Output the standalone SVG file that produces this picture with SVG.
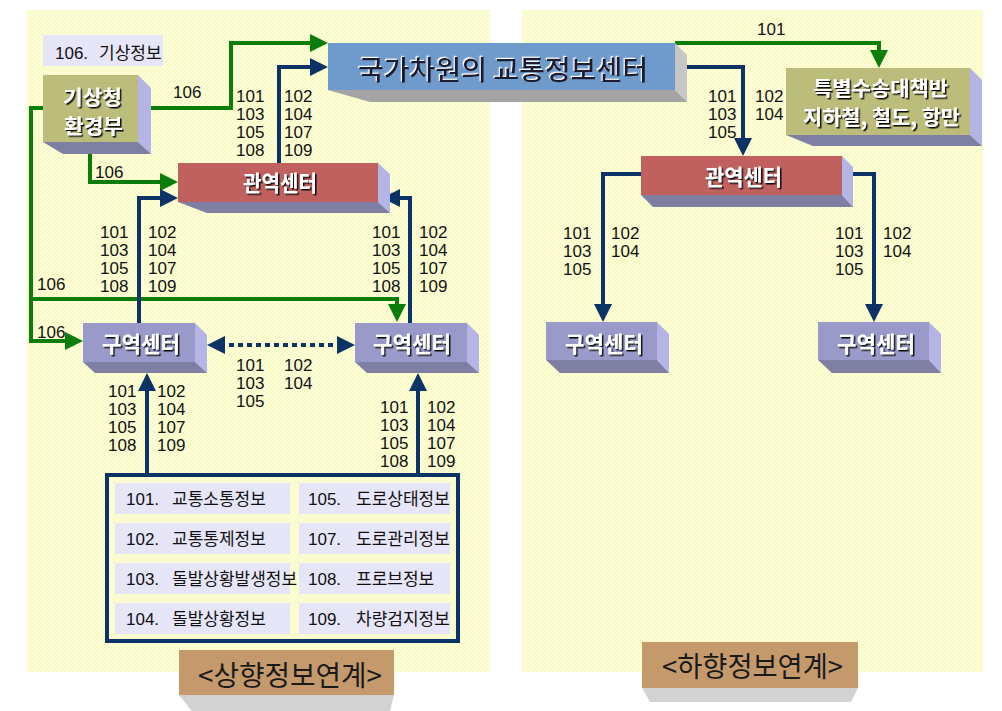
<svg xmlns="http://www.w3.org/2000/svg" width="1002" height="711" viewBox="0 0 1002 711">
<style>
.g{fill:none;stroke:#0A7D0A;stroke-width:4}
.n{fill:none;stroke:#0B3366;stroke-width:4}
.num{font-family:"Liberation Sans",Arial,sans-serif;font-size:17px;fill:#111}
.lg{font-family:"Liberation Sans","Noto Sans CJK KR",sans-serif;font-size:17px;fill:#111}
.kr{font-family:"Noto Sans CJK KR",sans-serif;font-size:17px;fill:#111}
.wt{font-family:"Noto Sans CJK KR",sans-serif;font-weight:700;font-size:22px;fill:#fff;filter:url(#sh)}
.w2{font-size:20px}
.cell{fill:#E6E6F8}
.side{fill:#B4B4E6}
.bot{fill:#7F7FA4}
</style>
<defs>
<pattern id="hatch" width="4" height="4" patternUnits="userSpaceOnUse">
<rect width="4" height="4" fill="#FFFFD4"/>
<path d="M0,4 L4,0" stroke="#F2F2C4" stroke-width="1"/>
</pattern>
<filter id="sh" x="-10%" y="-20%" width="130%" height="150%">
<feDropShadow dx="1.5" dy="1.5" stdDeviation="0" flood-color="#111"/>
</filter>
<filter id="hl" x="-10%" y="-20%" width="130%" height="150%">
<feDropShadow dx="-1.2" dy="-1.2" stdDeviation="0" flood-color="#fff"/>
</filter>
<marker id="ag" markerUnits="userSpaceOnUse" markerWidth="18" markerHeight="18" viewBox="0 0 18 18" refX="14" refY="9" orient="auto">
<path d="M0,0 L18,9 L0,18z" fill="#0A7D0A"/>
</marker>
<marker id="an" markerUnits="userSpaceOnUse" markerWidth="18" markerHeight="18" viewBox="0 0 18 18" refX="14" refY="9" orient="auto-start-reverse">
<path d="M0,0 L18,9 L0,18z" fill="#0B3366"/>
</marker>
</defs>
<rect width="1002" height="711" fill="#fff"/>
<g id="panels">
<rect x="27" y="10" width="463" height="662" fill="url(#hatch)"/>
<rect x="522" y="10" width="461" height="662" fill="url(#hatch)"/>
</g>

<g id="connectors">
<path class="g" d="M139,108 H231 V43 H324" marker-end="url(#ag)"/>
<path class="g" d="M43,108 H31 V341 H79" marker-end="url(#ag)"/>
<path class="g" d="M31,299 H397 V318" marker-end="url(#ag)"/>
<path class="g" d="M90,142 V182 H174" marker-end="url(#ag)"/>
<path class="g" d="M675,43 H879 V64" marker-end="url(#ag)"/>
<path class="n" d="M279,163 V67 H324" marker-end="url(#an)"/>
<path class="n" d="M675,67 H743 V152" marker-end="url(#an)"/>
<path class="n" d="M641,174 H603 V318" marker-end="url(#an)"/>
<path class="n" d="M842,174 H874 V318" marker-end="url(#an)"/>
<path class="n" d="M139,323 V198 H174" marker-end="url(#an)"/>
<path class="n" d="M410,323 V198 H386" marker-end="url(#an)"/>
<path class="n" d="M147,473 V377" marker-end="url(#an)"/>
<path class="n" d="M418,473 V377" marker-end="url(#an)"/>
<path class="n" d="M211,345 H351" stroke-dasharray="5 4" marker-start="url(#an)" marker-end="url(#an)"/>
</g>

<g id="connector-labels">
<text class="num" x="173" y="98">106</text>
<text class="num" x="95" y="178">106</text>
<text class="num" x="37" y="290">106</text>
<text class="num" x="37" y="338">106</text>
<text class="num" x="757" y="35">101</text>
<text class="num"><tspan x="236" y="102">101</tspan><tspan x="236" y="120">103</tspan><tspan x="236" y="138">105</tspan><tspan x="236" y="156">108</tspan></text>
<text class="num"><tspan x="284" y="102">102</tspan><tspan x="284" y="120">104</tspan><tspan x="284" y="138">107</tspan><tspan x="284" y="156">109</tspan></text>
<text class="num"><tspan x="708" y="102">101</tspan><tspan x="708" y="120">103</tspan><tspan x="708" y="138">105</tspan></text>
<text class="num"><tspan x="755" y="102">102</tspan><tspan x="755" y="120">104</tspan></text>
<text class="num"><tspan x="563" y="239">101</tspan><tspan x="563" y="257">103</tspan><tspan x="563" y="275">105</tspan></text>
<text class="num"><tspan x="611" y="239">102</tspan><tspan x="611" y="257">104</tspan></text>
<text class="num"><tspan x="835" y="239">101</tspan><tspan x="835" y="257">103</tspan><tspan x="835" y="275">105</tspan></text>
<text class="num"><tspan x="883" y="239">102</tspan><tspan x="883" y="257">104</tspan></text>
<text class="num"><tspan x="100" y="238">101</tspan><tspan x="100" y="256">103</tspan><tspan x="100" y="274">105</tspan><tspan x="100" y="292">108</tspan></text>
<text class="num"><tspan x="148" y="238">102</tspan><tspan x="148" y="256">104</tspan><tspan x="148" y="274">107</tspan><tspan x="148" y="292">109</tspan></text>
<text class="num"><tspan x="372" y="238">101</tspan><tspan x="372" y="256">103</tspan><tspan x="372" y="274">105</tspan><tspan x="372" y="292">108</tspan></text>
<text class="num"><tspan x="419" y="238">102</tspan><tspan x="419" y="256">104</tspan><tspan x="419" y="274">107</tspan><tspan x="419" y="292">109</tspan></text>
<text class="num"><tspan x="236" y="371">101</tspan><tspan x="236" y="389">103</tspan><tspan x="236" y="407">105</tspan></text>
<text class="num"><tspan x="284" y="371">102</tspan><tspan x="284" y="389">104</tspan></text>
<text class="num"><tspan x="108" y="397">101</tspan><tspan x="108" y="415">103</tspan><tspan x="108" y="433">105</tspan><tspan x="108" y="451">108</tspan></text>
<text class="num"><tspan x="157" y="397">102</tspan><tspan x="157" y="415">104</tspan><tspan x="157" y="433">107</tspan><tspan x="157" y="451">109</tspan></text>
<text class="num"><tspan x="380" y="413">101</tspan><tspan x="380" y="431">103</tspan><tspan x="380" y="449">105</tspan><tspan x="380" y="467">108</tspan></text>
<text class="num"><tspan x="427" y="413">102</tspan><tspan x="427" y="431">104</tspan><tspan x="427" y="449">107</tspan><tspan x="427" y="467">109</tspan></text>
</g>

<g id="weather-legend">
<rect class="cell" x="43" y="35" width="120" height="31"/>
<text class="lg" y="59"><tspan x="55">106.</tspan><tspan x="99" font-family="Noto Sans CJK KR, sans-serif">기상정보</tspan></text>
</g>

<g id="node-kma">
<polygon class="side" points="138,75 151,88 151,154 138,142"/>
<polygon class="bot" points="43,142 138,142 151,154 63,154"/>
<rect x="43" y="75" width="95" height="67" fill="#BDBD7B"/>
<text class="wt w2" x="63" y="105" textLength="59" lengthAdjust="spacingAndGlyphs">기상청</text>
<text class="wt w2" x="64" y="134" textLength="59" lengthAdjust="spacingAndGlyphs">환경부</text>
</g>

<g id="node-national">
<polygon points="675,43 687,55 687,102 675,90" fill="#C6C6C6"/>
<polygon points="328,90 675,90 687,102 370,102" fill="#A4A4A4"/>
<rect x="328" y="43" width="347" height="47" fill="#6E9BCB"/>
<text x="358" y="80" textLength="290" lengthAdjust="spacingAndGlyphs" style="font-family:'Noto Sans CJK KR',sans-serif;font-size:27px;font-weight:500;fill:#1A1A30;filter:url(#hl)">국가차원의 교통정보센터</text>
</g>

<g id="node-special">
<polygon class="side" points="970,68 982,80 982,146 970,135"/>
<polygon class="bot" points="786,135 970,135 982,146 813,146"/>
<rect x="786" y="68" width="184" height="67" fill="#BDBD7B"/>
<text class="wt w2" x="813" y="96" textLength="135" lengthAdjust="spacingAndGlyphs">특별수송대책반</text>
<text class="wt w2" x="803" y="125" textLength="157" lengthAdjust="spacingAndGlyphs">지하철, 철도, 항만</text>
</g>

<g id="node-region-left">
<polygon class="side" points="378,163 390,174 390,213 378,202"/>
<polygon class="bot" points="178,202 378,202 390,213 207,213"/>
<rect x="178" y="163" width="200" height="39" fill="#C0605F"/>
<text class="wt" x="243" y="191" textLength="74" lengthAdjust="spacingAndGlyphs">관역센터</text>
</g>

<g id="node-region-right">
<polygon class="side" points="842,156 853,167 853,207 842,195"/>
<polygon class="bot" points="641,195 842,195 853,207 653,207"/>
<rect x="641" y="156" width="201" height="39" fill="#C0605F"/>
<text class="wt" x="705" y="185" textLength="77" lengthAdjust="spacingAndGlyphs">관역센터</text>
</g>

<g id="node-zone-1">
<polygon class="side" points="195,323 207,335 207,373 195,362"/>
<polygon class="bot" points="83,362 195,362 207,373 95,373"/>
<rect x="83" y="323" width="112" height="39" fill="#9A9ACA"/>
<text class="wt" x="102" y="352" textLength="78" lengthAdjust="spacingAndGlyphs">구역센터</text>
</g>

<g id="node-zone-2">
<polygon class="side" points="467,323 479,335 479,373 467,362"/>
<polygon class="bot" points="355,362 467,362 479,373 367,373"/>
<rect x="355" y="323" width="112" height="39" fill="#9A9ACA"/>
<text class="wt" x="373" y="352" textLength="78" lengthAdjust="spacingAndGlyphs">구역센터</text>
</g>

<g id="node-zone-3">
<polygon class="side" points="657,322 669,334 669,373 657,360"/>
<polygon class="bot" points="546,360 657,360 669,373 560,373"/>
<rect x="546" y="322" width="111" height="38" fill="#9A9ACA"/>
<text class="wt" x="565" y="352" textLength="78" lengthAdjust="spacingAndGlyphs">구역센터</text>
</g>

<g id="node-zone-4">
<polygon class="side" points="929,322 941,334 941,373 929,360"/>
<polygon class="bot" points="818,360 929,360 941,373 832,373"/>
<rect x="818" y="322" width="111" height="38" fill="#9A9ACA"/>
<text class="wt" x="837" y="352" textLength="78" lengthAdjust="spacingAndGlyphs">구역센터</text>
</g>

<g id="info-legend">
<rect x="107" y="475" width="351" height="166" fill="none" stroke="#0B3366" stroke-width="4"/>
<rect class="cell" x="115" y="483" width="175" height="31"/>
<rect class="cell" x="115" y="523" width="175" height="31"/>
<rect class="cell" x="115" y="563" width="175" height="31"/>
<rect class="cell" x="115" y="603" width="175" height="31"/>
<rect class="cell" x="299" y="483" width="151" height="31"/>
<rect class="cell" x="299" y="523" width="151" height="31"/>
<rect class="cell" x="299" y="563" width="151" height="31"/>
<rect class="cell" x="299" y="603" width="151" height="31"/>
<text class="lg" y="505"><tspan x="126">101.</tspan><tspan class="kr" x="172">교통소통정보</tspan></text>
<text class="lg" y="545"><tspan x="126">102.</tspan><tspan class="kr" x="172">교통통제정보</tspan></text>
<text class="lg" y="585"><tspan x="126">103.</tspan><tspan class="kr" x="172">돌발상황발생정보</tspan></text>
<text class="lg" y="625"><tspan x="126">104.</tspan><tspan class="kr" x="172">돌발상황정보</tspan></text>
<text class="lg" y="505"><tspan x="308">105.</tspan><tspan class="kr" x="356">도로상태정보</tspan></text>
<text class="lg" y="545"><tspan x="308">107.</tspan><tspan class="kr" x="356">도로관리정보</tspan></text>
<text class="lg" y="585"><tspan x="308">108.</tspan><tspan class="kr" x="356">프로브정보</tspan></text>
<text class="lg" y="625"><tspan x="308">109.</tspan><tspan class="kr" x="356">차량검지정보</tspan></text>
</g>

<g id="title-up">
<polygon points="179,695 394,695 390,711 192,711" fill="#D2D2D2"/>
<rect x="179" y="650" width="215" height="45" fill="#C49A6C"/>
<text x="198" y="686" textLength="184" lengthAdjust="spacingAndGlyphs" style="font-family:'Noto Sans CJK KR',sans-serif;font-size:28px;fill:#1A1A1A">&lt;상향정보연계&gt;</text>
</g>

<g id="title-down">
<polygon points="642,688 858,688 851,702 650,702" fill="#D2D2D2"/>
<rect x="642" y="642" width="216" height="46" fill="#C49A6C"/>
<text x="662" y="677" textLength="181" lengthAdjust="spacingAndGlyphs" style="font-family:'Noto Sans CJK KR',sans-serif;font-size:28px;fill:#1A1A1A">&lt;하향정보연계&gt;</text>
</g>
</svg>
